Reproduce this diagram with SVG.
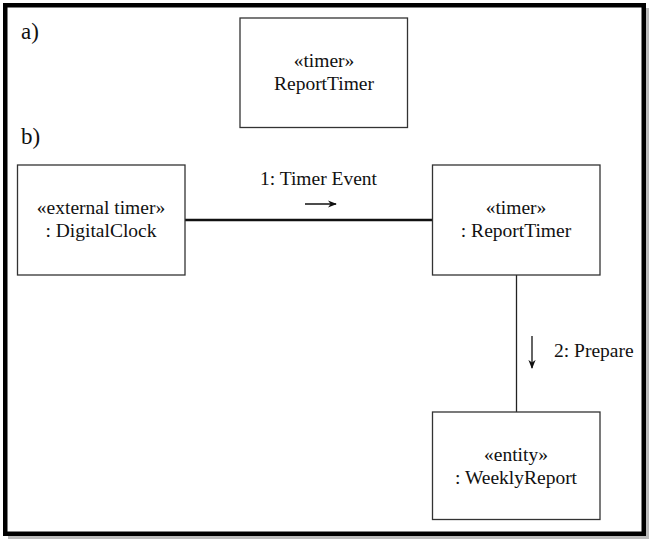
<svg xmlns="http://www.w3.org/2000/svg" width="655" height="544" viewBox="0 0 655 544">
<style>
.box{fill:#fff;stroke:#333;stroke-width:1.3}
text{font-family:'Liberation Serif','DejaVu Serif',serif;fill:#111}
.t{font-size:19.5px;text-anchor:middle}
.lbl{font-size:19.5px}
.part{font-size:23px}
</style>
<defs>
<marker id="ah" viewBox="0 0 10 10" refX="9" refY="5" markerWidth="9" markerHeight="9" markerUnits="userSpaceOnUse" orient="auto">
<path d="M0,1 L10,5 L0,9 L3,5 Z" fill="#111"/>
</marker>
</defs>
<rect x="0" y="0" width="655" height="544" fill="#fff"/>
<rect x="8" y="8" width="641" height="531" fill="#bbb"/>
<rect x="5.25" y="5.25" width="638.5" height="528.5" fill="#fff" stroke="#000" stroke-width="4.5"/>
<text class="part" x="21" y="39" font-family="Liberation Serif">a)</text>
<text class="part" x="21" y="144" font-family="Liberation Serif">b)</text>
<g id="connectors">
<line x1="185" y1="220" x2="432" y2="220" stroke="#111" stroke-width="2.5"/>
<line x1="516.5" y1="275" x2="516.5" y2="412" stroke="#222" stroke-width="1.3"/>
<line x1="305" y1="204" x2="336" y2="204" stroke="#111" stroke-width="1.5" marker-end="url(#ah)"/>
<text class="lbl" x="260" y="185" font-family="Liberation Serif">1: Timer Event</text>
<line x1="532" y1="336" x2="532" y2="368" stroke="#111" stroke-width="1.3" marker-end="url(#ah)"/>
<text class="lbl" x="554" y="357" font-family="Liberation Serif">2: Prepare</text>
</g>
<g id="timerA">
<rect class="box" x="240" y="18" width="167.5" height="109.5"/>
<text class="t" x="324" y="67" font-family="Liberation Serif">«timer»</text>
<text class="t" x="324" y="89.5" font-family="Liberation Serif">ReportTimer</text>
</g>
<g id="digitalClock">
<rect class="box" x="17.5" y="165" width="167.5" height="110"/>
<text class="t" x="101" y="214" font-family="Liberation Serif">«external timer»</text>
<text class="t" x="101" y="237" font-family="Liberation Serif">: DigitalClock</text>
</g>
<g id="reportTimer">
<rect class="box" x="432.5" y="165" width="167.5" height="110"/>
<text class="t" x="516" y="214" font-family="Liberation Serif">«timer»</text>
<text class="t" x="516" y="237" font-family="Liberation Serif">: ReportTimer</text>
</g>
<g id="weeklyReport">
<rect class="box" x="432.5" y="412" width="167.5" height="107.5"/>
<text class="t" x="516" y="461" font-family="Liberation Serif">«entity»</text>
<text class="t" x="516" y="484" font-family="Liberation Serif">: WeeklyReport</text>
</g>
</svg>
